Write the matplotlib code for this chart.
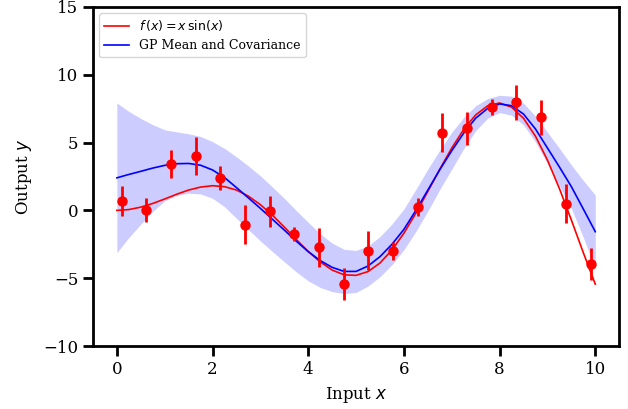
import matplotlib
matplotlib.use("Agg")
import matplotlib.pyplot as plt

# noisy observations
obs_x = [0.1, 0.616, 1.132, 1.647, 2.163, 2.679, 3.195, 3.711, 4.226, 4.742,
         5.258, 5.774, 6.289, 6.805, 7.321, 7.837, 8.353, 8.868, 9.384, 9.9]
obs_y = [0.69, 0.03, 3.42, 4.01, 2.37, -1.05, -0.07, -1.74, -2.72, -5.43,
         -2.97, -2.99, 0.27, 5.73, 6.05, 7.65, 7.97, 6.87, 0.49, -3.95]
obs_err = [1.13, 0.85, 1.03, 1.4, 0.87, 1.44, 1.13, 0.52, 1.43, 1.2,
           1.46, 0.68, 0.65, 1.44, 1.22, 0.58, 1.29, 1.29, 1.44, 1.19]

# curves sampled every 0.25
grid_x = [i * 0.25 for i in range(41)]
true_f = [0.0, 0.06, 0.24, 0.51, 0.84, 1.19, 1.5, 1.72, 1.82, 1.75, 1.5, 1.05, 0.42,
          -0.35, -1.23, -2.14, -3.03, -3.8, -4.4, -4.75, -4.79, -4.51, -3.88, -2.92,
          -1.68, -0.21, 1.4, 3.04, 4.6, 5.97, 7.04, 7.71, 7.92, 7.61, 6.79, 5.47,
          3.71, 1.61, -0.71, -3.12, -5.44]
gp_mean = [2.4, 2.65, 2.88, 3.12, 3.32, 3.44, 3.46, 3.33, 2.98, 2.42, 1.68, 0.92, 0.15,
           -0.65, -1.45, -2.27, -3.04, -3.7, -4.2, -4.5, -4.5, -4.1, -3.41, -2.5,
           -1.4, 0.0, 1.5, 3.0, 4.4, 5.7, 6.8, 7.52, 7.85, 7.72, 7.1, 6.0,
           4.6, 3.2, 1.75, 0.1, -1.57]
gp_half = [5.52, 4.65, 3.9, 3.2, 2.62, 2.35, 2.19, 2.12, 2.09, 2.15, 2.27, 2.35, 2.4,
           2.38, 2.34, 2.26, 2.16, 1.98, 1.79, 1.63, 1.55, 1.48, 1.48, 1.5,
           1.5, 1.55, 1.55, 1.45, 1.36, 1.15, 0.92, 0.72, 0.64, 0.7, 0.8, 0.95,
           1.17, 1.38, 1.6, 2.1, 2.7]

lower = [m - h for m, h in zip(gp_mean, gp_half)]
upper = [m + h for m, h in zip(gp_mean, gp_half)]

plt.rcParams['font.family'] = 'DejaVu Serif'
plt.rcParams['mathtext.fontset'] = 'dejavusans'

fig = plt.figure(figsize=(6.28, 4.09), dpi=100)
ax = fig.add_axes([0.148, 0.154, 0.838, 0.829])

ax.fill_between(grid_x, lower, upper, color='blue', alpha=0.2, linewidth=0)
ax.plot(grid_x, true_f, color='red', lw=1.2, label=r'$f\,(x) = x\,\sin(x)$')
ax.plot(grid_x, gp_mean, color='blue', lw=1.2, label='GP Mean and Covariance')
ax.errorbar(obs_x, obs_y, yerr=obs_err, fmt='o', color='red', ms=6.5, elinewidth=2,
            capsize=0)

ax.set_xlim(-0.5, 10.5)
ax.set_ylim(-10, 15)
ax.set_yticks([-10, -5, 0, 5, 10, 15])
ax.set_xticks([0, 2, 4, 6, 8, 10])
ax.set_xlabel(r'Input $x$', fontsize=12, labelpad=5)
ax.set_ylabel(r'Output $y$', fontsize=12, labelpad=7)
ax.tick_params(labelsize=12, width=2, length=7)
for s in ax.spines.values():
    s.set_linewidth(2)

ax.legend(loc='upper left', fontsize=9, framealpha=0.8)

fig.savefig('out.png', dpi=100)
